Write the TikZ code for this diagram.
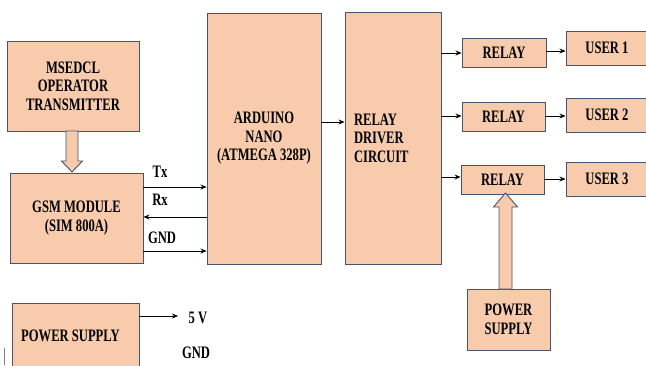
\documentclass[tikz,border=0pt]{standalone}
\usepackage{fontspec}
\setmainfont{Liberation Serif}[FakeStretch=0.72]
\usetikzlibrary{arrows.meta}
\definecolor{peach}{RGB}{248,203,173}
\definecolor{edge}{RGB}{70,84,110}
\tikzset{
  blk/.style={draw=edge, line width=0.9pt, fill=peach, inner sep=0pt, align=center,
              font=\fontsize{17.5}{18.5}\selectfont\bfseries},
  lbl/.style={inner sep=0pt, font=\fontsize{17.5}{18.5}\selectfont\bfseries},
  arr/.style={draw=black, line width=0.8pt, -{Stealth[length=6pt,width=5pt]}},
  hollow/.style={draw=edge, line width=0.9pt, fill=peach, line join=miter}
}
\begin{document}
\begin{tikzpicture}[x=1pt,y=-1pt]
\useasboundingbox (0,0) rectangle (646,365);
\begin{scope}
\clip (0,0) rectangle (646,365);
% blocks
\node[blk, minimum width=132pt, minimum height=90pt] (ms) at (73,86) {MSEDCL\\OPERATOR\\TRANSMITTER};
\node[blk, minimum width=133pt, minimum height=90pt] (gsm) at (76.5,218) {GSM MODULE\\(SIM 800A)};
\node[blk, minimum width=114pt, minimum height=251pt] (ard) at (264,138.5) {ARDUINO\\NANO\\(ATMEGA 328P)};
\node[blk, minimum width=96pt, minimum height=252pt, text width=78pt, align=left, inner xsep=9pt] (drv) at (393,138) {RELAY\\DRIVER\\CIRCUIT};
\node[blk, minimum width=84pt, minimum height=29pt] (r1) at (504,52.5) {RELAY};
\node[blk, minimum width=83pt, minimum height=29pt] (r2) at (503.5,116.5) {RELAY};
\node[blk, minimum width=83pt, minimum height=29pt] (r3) at (502.5,179.5) {RELAY};
\node[blk, minimum width=82pt, minimum height=34pt] (u1) at (607,48) {USER 1};
\node[blk, minimum width=82pt, minimum height=34pt] (u2) at (607,115) {USER 2};
\node[blk, minimum width=82pt, minimum height=34pt] (u3) at (607,179) {USER 3};
\node[blk, minimum width=83pt, minimum height=61pt] (ps2) at (508.5,319.5) {POWER\\SUPPLY};
\node[blk, minimum width=127pt, minimum height=66pt] (ps1) at (75.5,336) {\hspace*{-10pt}POWER SUPPLY};
% labels
\node[lbl] (tx) at (160,172) {Tx};
\node[lbl] (rx) at (160,200) {Rx};
\node[lbl] (gnd) at (162,238) {GND};
\node[lbl] (fv) at (198,318) {5 V};
\node[lbl] (gnd2) at (196,353) {GND};
\coordinate (fvend) at (178,316);
% hollow arrows
\draw[hollow] (66,131) -- (78,131) -- (78,161) -- (82.5,161) -- (72,172) -- (61.5,161) -- (66,161) -- cycle;
\draw[hollow] (499,289) -- (512,289) -- (512,207) -- (517.5,207) -- (505.5,193) -- (493.5,207) -- (499,207) -- cycle;
% connectors
\draw[arr] (gsm.east |- 0,187) -- (ard.west |- 0,187);
\draw[arr] (ard.west |- 0,217) -- (gsm.east |- 0,217);
\draw[arr] (gsm.east |- 0,251) -- (ard.west |- 0,251);
\draw[arr] (ard.east |- 0,122) -- (drv.west |- 0,122);
\draw[arr] (drv.east |- 0,53) -- (r1.west |- 0,53);
\draw[arr] (drv.east |- 0,116) -- (r2.west |- 0,116);
\draw[arr] (drv.east |- 0,177) -- (r3.west |- 0,177);
\draw[arr] (r1.east |- 0,51) -- (u1.west |- 0,51);
\draw[arr] (r2.east |- 0,116) -- (u2.west |- 0,116);
\draw[arr] (r3.east |- 0,179) -- (u3.west |- 0,179);
\draw[arr] (ps1.east |- fvend) -- (fvend);
\draw[gray, line width=0.8pt] (4,348) -- (4,365);
\end{scope}
\end{tikzpicture}
\end{document}
